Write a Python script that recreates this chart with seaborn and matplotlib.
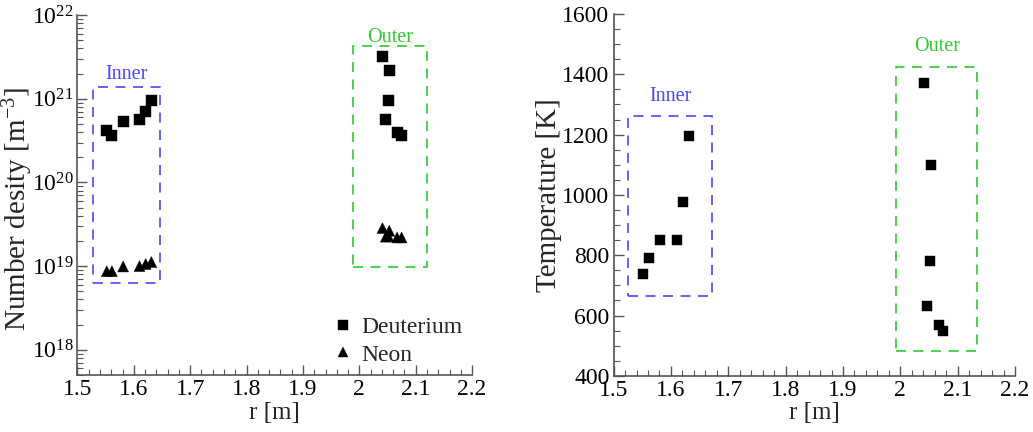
import numpy as np
import pandas as pd
import matplotlib
matplotlib.use("Agg")
import matplotlib.pyplot as plt
import matplotlib.ticker as mticker
from matplotlib.patches import Rectangle
import seaborn as sns

# ---------------- data ----------------
r_inner = [1.552, 1.561, 1.581, 1.610, 1.621, 1.631]
r_outer = [2.041, 2.053, 2.051, 2.047, 2.067, 2.075]

nD_inner = [4.2e20, 3.66e20, 5.4e20, 5.7e20, 7.1e20, 9.6e20]
nNe_inner = [8.7e18, 8.7e18, 9.9e18, 1.0e19, 1.06e19, 1.12e19]
nD_outer = [3.2e21, 2.2e21, 9.6e20, 5.6e20, 4.0e20, 3.66e20]
nNe_outer = [2.85e19, 2.65e19, 2.3e19, 2.25e19, 2.2e19, 2.2e19]

T_inner = [738, 790, 850, 850, 975, 1195]
T_outer = [1372, 1098, 782, 632, 568, 548]

species = ["Deuterium", "Neon"]
region_labels = ["Inner", "Outer"]

# box bounds (r_min, r_max, y_min, y_max)
box_n_inner = [1.527, 1.646, 6.2e18, 1.4e21]
box_n_outer = [1.989, 2.120, 9.8e18, 4.25e21]
box_T_inner = [1.525, 1.672, 665, 1262]
box_T_outer = [1.993, 2.134, 484, 1425]

xticks = [1.5, 1.6, 1.7, 1.8, 1.9, 2.0, 2.1, 2.2]
xticklabels = ["1.5", "1.6", "1.7", "1.8", "1.9", "2", "2.1", "2.2"]
T_ticks = [400, 600, 800, 1000, 1200, 1400, 1600]

# ---------------- style ----------------
sns.set_theme(style="ticks")
plt.rcParams["font.family"] = ["Liberation Serif", "DejaVu Serif"]
plt.rcParams["mathtext.fontset"] = "custom"
plt.rcParams["mathtext.rm"] = "Liberation Serif"
plt.rcParams["mathtext.it"] = "Liberation Serif:italic"
plt.rcParams["axes.unicode_minus"] = False

BLUE = "#4747ff"
GREEN = "#2ecc2e"
AXC = "#555555"

df_n = pd.DataFrame({
    "r": r_inner + r_outer + r_inner + r_outer,
    "n": nD_inner + nD_outer + nNe_inner + nNe_outer,
    "species": [species[0]] * 12 + [species[1]] * 12,
})
df_T = pd.DataFrame({"r": r_inner + r_outer, "T": T_inner + T_outer})

fig = plt.figure(figsize=(10.33, 4.32), dpi=100)
ax1 = fig.add_axes([0.075, 0.132, 0.382, 0.833])
ax2 = fig.add_axes([0.594, 0.130, 0.3886, 0.8376])

sns.scatterplot(data=df_n, x="r", y="n", style="species", markers={"Deuterium": "s", "Neon": "^"},
                color="black", s=62, edgecolor="black", linewidth=0.3, ax=ax1, legend=True)
sns.scatterplot(data=df_T, x="r", y="T", marker="s", color="black", s=62,
                edgecolor="black", linewidth=0.3, ax=ax2, legend=False)

ax1.set_yscale("log")
ax1.set_ylim(5e17, 1e22)
ax2.set_ylim(400, 1600)
for ax in (ax1, ax2):
    ax.set_xlim(1.5, 2.2)
    ax.set_xticks(xticks)
    ax.set_xticklabels(xticklabels)
    ax.xaxis.set_minor_locator(mticker.MultipleLocator(0.02))
    for s in ("top", "right"):
        ax.spines[s].set_visible(False)
    for s in ("left", "bottom"):
        ax.spines[s].set_color(AXC)
        ax.spines[s].set_linewidth(1.2)
    ax.tick_params(which="both", direction="in", colors=AXC, labelcolor="black",
                   labelsize=17, pad=3)
    ax.tick_params(which="major", length=7, width=1.0)
    ax.tick_params(which="minor", length=4, width=0.8)
    ax.set_xlabel("r [m]", fontsize=18, labelpad=1)

ax1.yaxis.set_major_locator(mticker.LogLocator(base=10, numticks=10))
ax1.yaxis.set_minor_locator(mticker.LogLocator(base=10, subs=np.arange(2, 10), numticks=10))
ax1.yaxis.set_minor_formatter(mticker.NullFormatter())
ax1.set_ylabel("Number desity [m$^{-3}$]", fontsize=21)
ax1.yaxis.set_label_coords(-0.107, 0.46)

ax2.set_yticks(T_ticks)
ax2.yaxis.set_minor_locator(mticker.MultipleLocator(50))
ax2.set_ylabel("Temperature [K]", fontsize=21, labelpad=0)

def draw_box(ax, b, color, text, gap_px):
    rect = Rectangle((b[0], b[2]), b[1] - b[0], b[3] - b[2], fill=False,
                     edgecolor=color, linestyle=(0, (6, 4.5)), linewidth=1.2)
    ax.add_patch(rect)
    ax.annotate(text, xy=((b[0] + b[1]) / 2, b[3]), xycoords="data",
                xytext=(0, gap_px * 0.72), textcoords="offset points", ha="center",
                va="center", color=color, fontsize=14.5)

draw_box(ax1, box_n_inner, BLUE, region_labels[0], 12)
draw_box(ax1, box_n_outer, GREEN, region_labels[1], 9)
draw_box(ax2, box_T_inner, BLUE, region_labels[0], 19)
draw_box(ax2, box_T_outer, GREEN, region_labels[1], 20)

leg = ax1.legend(loc="lower right", bbox_to_anchor=(1.0, 0.0), borderaxespad=0,
                 frameon=False, fontsize=17, handletextpad=0.3, handlelength=1.0,
                 labelspacing=0.25, markerscale=0.9, title=None)

fig.savefig("out.png", dpi=100)
